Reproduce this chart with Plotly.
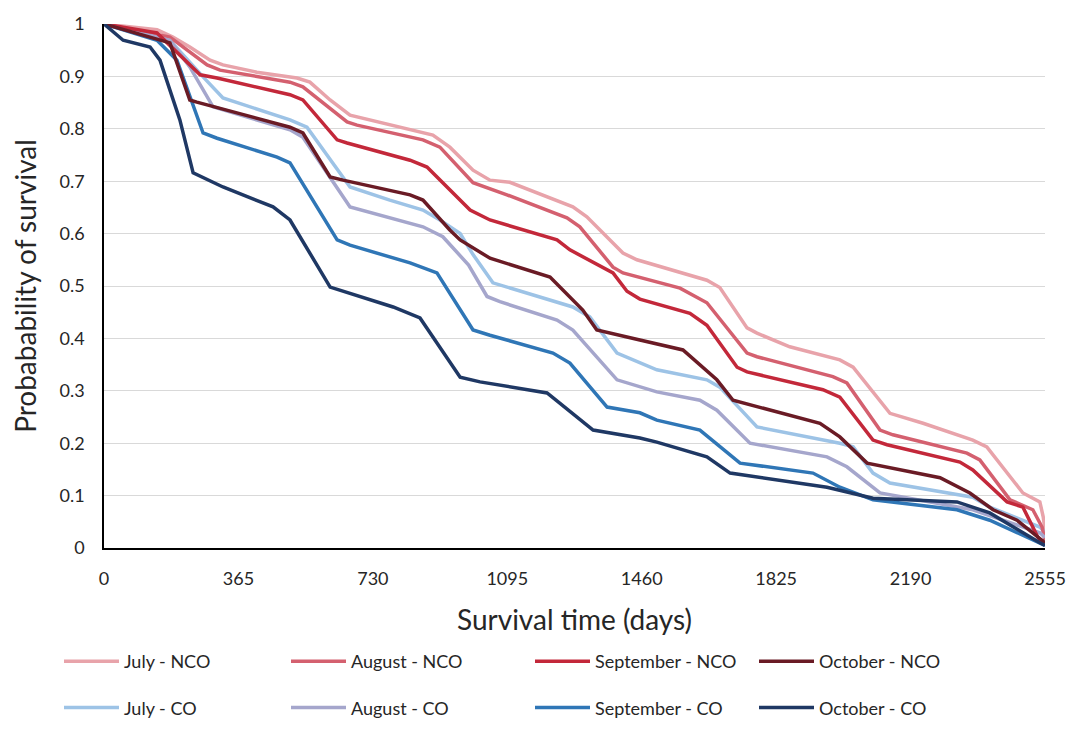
import plotly.graph_objects as go

# ---- data (days, survival probability) ----
july_nco_t = [0, 144, 187, 233, 288, 323, 415, 524, 559, 614, 668, 776, 893, 939, 1002, 1048, 1102, 1273, 1311, 1409, 1447, 1637, 1672, 1746, 1773, 1862, 1998, 2034, 2134, 2224, 2359, 2397, 2495, 2541, 2550, 2555]
july_nco_s = [1.0, 0.989, 0.975, 0.956, 0.931, 0.922, 0.908, 0.897, 0.889, 0.855, 0.826, 0.807, 0.788, 0.765, 0.721, 0.702, 0.698, 0.651, 0.632, 0.563, 0.55, 0.511, 0.497, 0.42, 0.41, 0.384, 0.359, 0.345, 0.257, 0.238, 0.206, 0.193, 0.105, 0.088, 0.06, 0.035]

aug_nco_t = [0, 179, 280, 315, 505, 540, 660, 687, 866, 912, 1002, 1094, 1257, 1292, 1382, 1409, 1564, 1637, 1746, 1773, 1979, 2017, 2107, 2142, 2343, 2378, 2460, 2522, 2547, 2555]
aug_nco_s = [1.0, 0.975, 0.922, 0.912, 0.889, 0.88, 0.813, 0.807, 0.779, 0.765, 0.697, 0.674, 0.63, 0.613, 0.536, 0.525, 0.496, 0.468, 0.372, 0.365, 0.327, 0.315, 0.225, 0.216, 0.181, 0.168, 0.092, 0.073, 0.04, 0.015]

sep_nco_t = [0, 144, 261, 307, 505, 540, 633, 660, 831, 877, 994, 1048, 1230, 1265, 1382, 1420, 1455, 1591, 1637, 1719, 1746, 1952, 1998, 2088, 2126, 2324, 2359, 2452, 2495, 2536, 2555]
sep_nco_s = [1.0, 0.983, 0.903, 0.897, 0.865, 0.855, 0.779, 0.773, 0.74, 0.727, 0.645, 0.626, 0.588, 0.569, 0.525, 0.49, 0.475, 0.448, 0.425, 0.345, 0.336, 0.302, 0.288, 0.206, 0.197, 0.164, 0.149, 0.088, 0.078, 0.02, 0.005]

oct_nco_t = [0, 179, 233, 252, 505, 540, 614, 649, 831, 866, 939, 967, 1048, 1211, 1300, 1338, 1455, 1572, 1664, 1708, 1944, 1998, 2072, 2270, 2351, 2414, 2479, 2533, 2555]
oct_nco_s = [1.0, 0.964, 0.855, 0.851, 0.803, 0.792, 0.708, 0.702, 0.674, 0.664, 0.607, 0.588, 0.553, 0.517, 0.454, 0.416, 0.397, 0.378, 0.321, 0.282, 0.238, 0.212, 0.162, 0.134, 0.105, 0.073, 0.053, 0.021, 0.01]

jul_co_t = [0, 179, 269, 323, 505, 551, 668, 776, 866, 912, 967, 1002, 1056, 1273, 1319, 1393, 1501, 1637, 1672, 1773, 1998, 2034, 2088, 2134, 2359, 2405, 2541, 2555]
jul_co_s = [1.0, 0.969, 0.899, 0.859, 0.817, 0.803, 0.689, 0.664, 0.645, 0.626, 0.6, 0.56, 0.506, 0.46, 0.441, 0.372, 0.34, 0.321, 0.307, 0.231, 0.2, 0.193, 0.143, 0.124, 0.097, 0.078, 0.04, 0.03]

aug_co_t = [0, 179, 233, 296, 505, 540, 668, 866, 920, 990, 1040, 1075, 1230, 1273, 1393, 1455, 1501, 1618, 1664, 1754, 1963, 2017, 2107, 2359, 2541, 2555]
aug_co_s = [1.0, 0.969, 0.918, 0.842, 0.798, 0.784, 0.651, 0.613, 0.594, 0.54, 0.48, 0.47, 0.435, 0.416, 0.321, 0.307, 0.298, 0.282, 0.263, 0.2, 0.174, 0.155, 0.105, 0.073, 0.029, 0.02]

sep_co_t = [0, 144, 198, 269, 307, 470, 505, 633, 668, 831, 904, 1002, 1048, 1219, 1265, 1366, 1455, 1501, 1618, 1727, 1925, 1998, 2088, 2316, 2405, 2541, 2555]
sep_co_s = [1.0, 0.969, 0.931, 0.792, 0.782, 0.746, 0.735, 0.588, 0.578, 0.544, 0.525, 0.416, 0.406, 0.372, 0.353, 0.269, 0.258, 0.244, 0.225, 0.162, 0.143, 0.116, 0.092, 0.073, 0.053, 0.01, 0.005]

oct_co_t = [0, 52, 125, 152, 206, 242, 323, 459, 505, 614, 785, 858, 967, 1021, 1203, 1328, 1455, 1501, 1637, 1700, 1963, 2088, 2316, 2405, 2541, 2555]
oct_co_s = [1.0, 0.969, 0.956, 0.931, 0.817, 0.716, 0.689, 0.651, 0.626, 0.498, 0.46, 0.439, 0.326, 0.317, 0.296, 0.225, 0.21, 0.202, 0.174, 0.143, 0.116, 0.095, 0.088, 0.067, 0.01, 0.005]

x_ticks = [0, 365, 730, 1095, 1460, 1825, 2190, 2555]
y_ticks = [0, 0.1, 0.2, 0.3, 0.4, 0.5, 0.6, 0.7, 0.8, 0.9, 1]
y_ticktext = ["0", "0.1", "0.2", "0.3", "0.4", "0.5", "0.6", "0.7", "0.8", "0.9", "1"]

FONT = "Lato"
TXT = "#262626"

series = [
    ("July - NCO", july_nco_t, july_nco_s, "#E8A3AA", "legend"),
    ("July - CO", jul_co_t, jul_co_s, "#9DC3E6", "legend"),
    ("August - NCO", aug_nco_t, aug_nco_s, "#D4606F", "legend2"),
    ("August - CO", aug_co_t, aug_co_s, "#A5A6CC", "legend2"),
    ("September - NCO", sep_nco_t, sep_nco_s, "#C3283A", "legend3"),
    ("September - CO", sep_co_t, sep_co_s, "#2F76B6", "legend3"),
    ("October - NCO", oct_nco_t, oct_nco_s, "#6A1B25", "legend4"),
    ("October - CO", oct_co_t, oct_co_s, "#1F3864", "legend4"),
]

fig = go.Figure()
for name, t, s, col, lg in series:
    fig.add_trace(go.Scatter(x=t, y=s, mode="lines", name=name,
                             line=dict(color=col, width=3.5),
                             legend=lg, legendgroup=name))

W, H = 1079, 747
L, R, T, B = 104, 34, 24, 199
pw = W - L - R
ph = H - T - B

def lx(px):
    return (px - L) / pw

def ly(py):
    return (H - B - py) / ph

leg_common = dict(orientation="v", font=dict(family=FONT, size=18, color=TXT),
                  bgcolor="rgba(0,0,0,0)", traceorder="grouped", tracegroupgap=20,
                  xanchor="left", yanchor="top", itemwidth=55)

fig.update_layout(
    width=W, height=H,
    margin=dict(l=L, r=R, t=T, b=B),
    paper_bgcolor="white", plot_bgcolor="white",
    font=dict(family=FONT, color=TXT),
    showlegend=True,
    legend=dict(x=lx(59), y=ly(643), **leg_common),
    legend2=dict(x=lx(286), y=ly(643), **leg_common),
    legend3=dict(x=lx(530), y=ly(643), **leg_common),
    legend4=dict(x=lx(754), y=ly(643), **leg_common),
    xaxis=dict(range=[0, 2555], tickvals=x_ticks, showgrid=False, zeroline=False,
               showline=True, linecolor="black", linewidth=1.5, ticks="",
               ticklabelstandoff=14,
               tickfont=dict(family=FONT, size=18, color=TXT),
               title=dict(text="Survival time (days)", font=dict(family=FONT, size=28, color=TXT),
                          standoff=22)),
    yaxis=dict(range=[0, 1], tickvals=y_ticks, ticktext=y_ticktext, showgrid=True,
               gridcolor="#D9D9D9", gridwidth=1, zeroline=False,
               showline=True, linecolor="black", linewidth=1.5, ticks="",
               ticklabelstandoff=14,
               tickfont=dict(family=FONT, size=18, color=TXT),
               title=dict(text="Probabability of survival", font=dict(family=FONT, size=28, color=TXT),
                          standoff=15)),
)

fig.write_html("out.html")
